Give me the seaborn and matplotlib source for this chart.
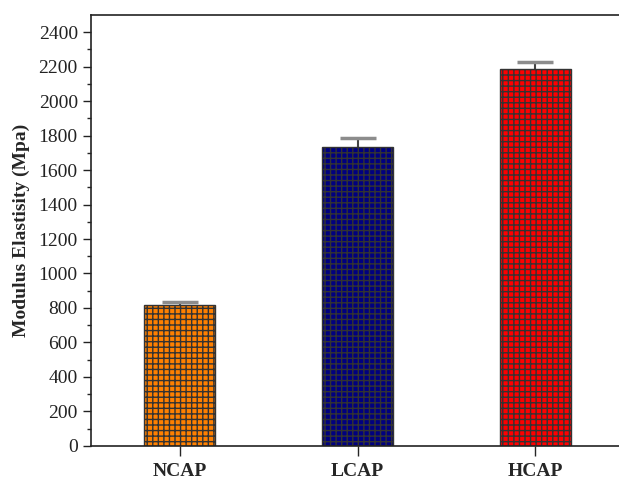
import numpy as np
import pandas as pd
import seaborn as sns
import matplotlib.pyplot as plt

samples = ["NCAP", "LCAP", "HCAP"]
modulus = [817, 1735, 2184]
modulus_err = [16, 52, 44]
bar_colors = ["#FF8000", "#000080", "#FF0000"]

sns.set_style("ticks")
plt.rcParams['font.family'] = ['Liberation Serif', 'DejaVu Serif']
plt.rcParams['hatch.color'] = '#2a2a2a'
plt.rcParams['hatch.linewidth'] = 1.0

df = pd.DataFrame({"sample": samples, "modulus": modulus})

fig, ax = plt.subplots(figsize=(6.19, 4.82), dpi=100)
sns.barplot(data=df, x="sample", y="modulus", hue="sample", palette=bar_colors,
            saturation=1, width=0.4, edgecolor="#333333", linewidth=1.0,
            legend=False, ax=ax, zorder=2)
for p in ax.patches:
    p.set_hatch('+++')

# symmetric bars drawn behind the columns so only the upper half shows
eb = ax.errorbar(np.arange(len(samples)), modulus, yerr=modulus_err, fmt='none',
                 ecolor='#444444', elinewidth=1.5, capsize=13, capthick=2.5, zorder=1)
for cap in eb[1]:
    cap.set_markeredgecolor('#8c8c8c')

ax.set_ylim(0, 2500)
ax.set_xlim(-0.5, 2.47)
ax.set_yticks(np.arange(0, 2401, 200))
ax.set_yticks(np.arange(100, 2500, 200), minor=True)
ax.tick_params(axis='y', which='major', direction='out', length=6, width=1, labelsize=14, colors='#222222')
ax.tick_params(axis='y', which='minor', direction='out', length=3, width=1)
ax.tick_params(axis='x', direction='out', length=7, width=1, labelsize=14, pad=5)
for lbl in ax.get_xticklabels():
    lbl.set_fontweight('bold')
ax.set_xlabel("")
ax.set_ylabel("Modulus Elastisity (Mpa)", fontsize=14, fontweight='bold', labelpad=6)

ax.spines['right'].set_visible(False)
for s in ['left', 'top', 'bottom']:
    ax.spines[s].set_linewidth(1.2)
    ax.spines[s].set_color('#222222')

plt.subplots_adjust(left=0.147, right=1.0, top=0.969, bottom=0.075)
plt.savefig("out.png", dpi=100)
